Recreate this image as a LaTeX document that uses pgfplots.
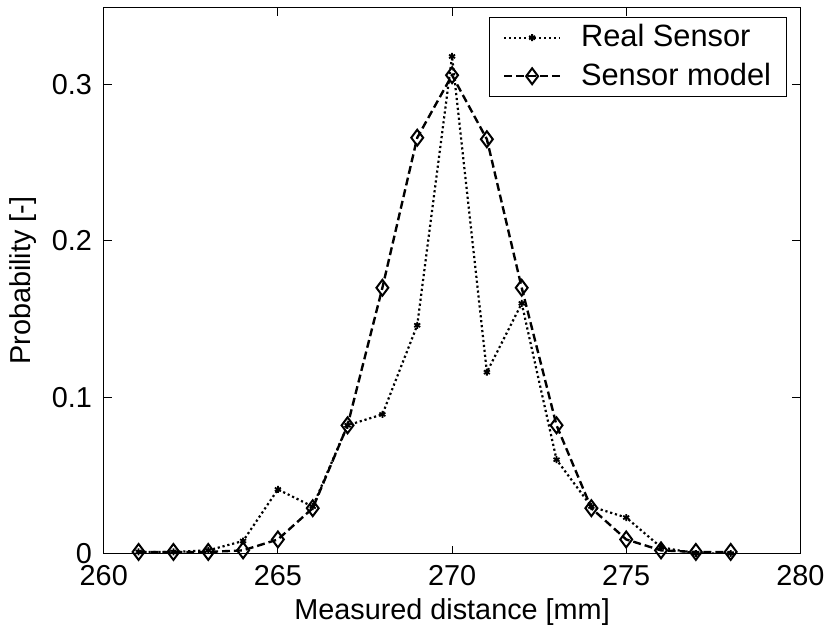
\documentclass[border=0pt]{standalone}
\usepackage{fontspec}
\setmainfont{Liberation Sans}
\usepackage{pgfplots}
\pgfplotsset{compat=1.18}
\begin{document}
\fontsize{29}{34}\selectfont
\begin{tikzpicture}
\begin{axis}[
    scale only axis,
    width=701pt, height=549pt,
    xmin=260, xmax=280,
    ymin=0, ymax=0.349,
    xtick={260,265,270,275,280},
    ytick={0,0.1,0.2,0.3},
    yticklabels={0,0.1,0.2,0.3},
    tick align=inside,
    major tick length=8pt,
    tick style={black, line width=1pt},
    axis line style={line width=1pt},
    /pgf/number format/assume math mode=true,
    ticklabel style={font=\fontsize{29}{34}\selectfont},
    xticklabel style={yshift=-2pt},
    yticklabel style={xshift=-2pt},
    label style={font=\fontsize{29}{34}\selectfont},
    xlabel={Measured distance [mm]},
    ylabel={Probability [-]},
    xlabel style={yshift=7pt},
    ylabel style={yshift=-4pt},
    legend style={at={(0.9815,0.9836)}, anchor=north east, draw=black,
        line width=1pt, font=\fontsize{31}{36}\selectfont,
        inner xsep=14pt, inner ysep=5pt, row sep=8pt,
        /tikz/every odd column/.append style={column sep=18pt}},
    legend cell align=left,
    legend image code/.code={
        \draw[mark repeat=2, mark phase=2]
        plot coordinates {(0pt,0pt) (28pt,0pt) (56pt,0pt)};},
]
\addplot[black, line width=2.2pt, dash pattern=on 2.2pt off 2.8pt,
    mark=asterisk, mark size=3.5pt,
    mark options={solid, line width=1.8pt}]
    coordinates {
    (261,0.001)(262,0.001)(263,0.002)(264,0.008)(265,0.041)(266,0.030)
    (267,0.082)(268,0.089)(269,0.146)(270,0.318)(271,0.116)(272,0.160)
    (273,0.060)(274,0.030)(275,0.023)(276,0.004)(277,0.000)(278,0.000)
    };
\addplot[black, line width=2.4pt, dash pattern=on 8pt off 4pt,
    mark=diamond, mark size=8pt,
    mark options={solid, line width=2pt}]
    coordinates {
    (261,0.001)(262,0.001)(263,0.001)(264,0.002)(265,0.009)(266,0.029)
    (267,0.082)(268,0.170)(269,0.266)(270,0.306)(271,0.265)(272,0.170)
    (273,0.082)(274,0.029)(275,0.009)(276,0.002)(277,0.001)(278,0.001)
    };
\legend{Real Sensor, Sensor model}
\end{axis}
\path (current axis.north) ++(0,8pt);
\end{tikzpicture}
\end{document}
